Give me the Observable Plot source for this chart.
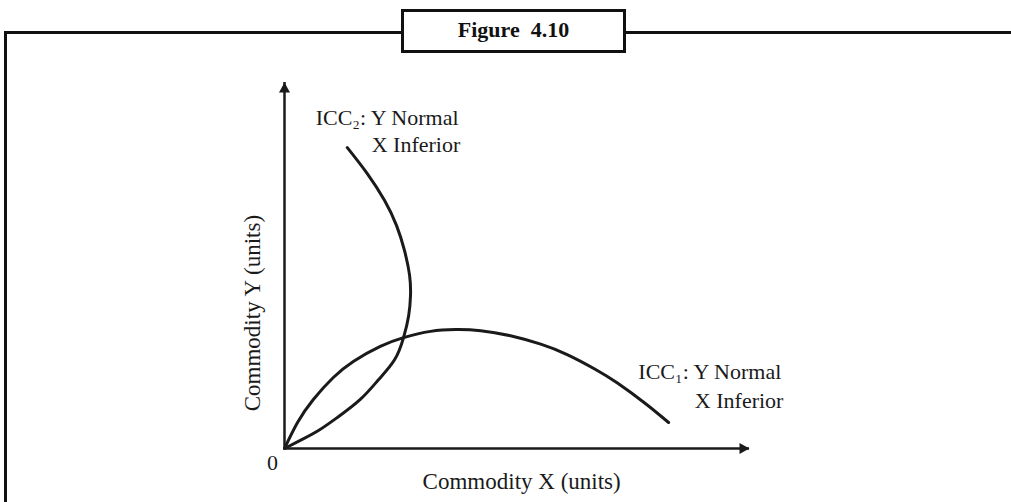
<!DOCTYPE html>
<html><head><meta charset="utf-8">
<script src="https://cdn.jsdelivr.net/npm/d3@7"></script>
<script src="https://cdn.jsdelivr.net/npm/@observablehq/plot@0.6"></script>
<style>
body{margin:0;background:#fff;}
#wrap{position:relative;width:1011px;height:502px;overflow:hidden;background:#fff;}
#frame{position:absolute;left:4px;top:31px;width:1100px;height:600px;border-left:3px solid #111;border-top:3px solid #111;}
#title{position:absolute;left:401px;top:9px;width:219px;height:36px;padding-bottom:2px;border:3px solid #111;background:#fff;font:bold 22px "Liberation Serif",serif;color:#111;display:flex;align-items:center;justify-content:center;white-space:pre;}
#chart{position:absolute;left:0;top:0;}
</style></head>
<body><div id="wrap"><div id="frame"></div><div id="title"></div><div id="chart"></div></div>
<script>
// ---- data (abstract units: both axes run 0..100) ----
const titleText = "Figure  4.10";
const xAxisLabel = "Commodity X (units)";
const yAxisLabel = "Commodity Y (units)";
const originLabel = "0";

const icc1X = [0, 2.8, 6.2, 10.5, 14.8, 20.6, 25.6, 31.4, 36.8, 42.2, 48.6, 55.1, 60.9, 66.9, 71.6, 77.6, 82.6];
const icc1Y = [0, 7.1, 13.4, 19.4, 23.8, 27.9, 30.3, 32.0, 32.5, 32.2, 30.8, 28.5, 25.6, 21.6, 17.9, 12.3, 7.1];

const icc2X = [0, 3.4, 7.3, 11.4, 16.3, 20.3, 23.7, 25.6, 26.7, 27.1, 26.9, 25.8, 24.1, 21.5, 17.8, 13.5];
const icc2Y = [0, 2.2, 4.9, 8.5, 13.4, 18.9, 24.3, 30.3, 36.3, 41.8, 47.3, 54.1, 60.9, 67.8, 75.1, 82.2];

const labelLine1 = ["ICC\u2082: Y Normal", "ICC\u2081: Y Normal"];
const labelLine2 = ["X Inferior", "X Inferior"];
const label1X = [6.7, 76.1];
const label1Y = [90.2, 20.8];
const label2X = [37.8, 107.3];
const label2Y = [82.8, 13.1];

const xLabelAt = [51, 0];
const yLabelAt = [0, 37];

// ---- build ----
document.getElementById("title").textContent = titleText;

const icc1 = icc1X.map((x, i) => ({x, y: icc1Y[i]}));
const icc2 = icc2X.map((x, i) => ({x, y: icc2Y[i]}));
const lab1 = labelLine1.map((t, i) => ({t, x: label1X[i], y: label1Y[i]}));
const lab2 = labelLine2.map((t, i) => ({t, x: label2X[i], y: label2Y[i]}));

const arrowRight = {draw(ctx){ ctx.moveTo(0,0); ctx.lineTo(-10,-5.5); ctx.lineTo(-10,5.5); ctx.closePath(); }};
const arrowUp = {draw(ctx){ ctx.moveTo(0,0); ctx.lineTo(-5.5,10); ctx.lineTo(5.5,10); ctx.closePath(); }};

const ink = "#1a1a1a";
const font = "Liberation Serif";

const chart = Plot.plot({
  width: 1011, height: 502,
  marginLeft: 284, marginRight: 262, marginTop: 82, marginBottom: 54,
  x: {domain: [0, 100], axis: null},
  y: {domain: [0, 100], axis: null},
  style: {background: "transparent", fontFamily: font, overflow: "visible"},
  marks: [
    Plot.ruleY([0], {stroke: ink, strokeWidth: 2.5}),
    Plot.ruleX([0], {stroke: ink, strokeWidth: 2.5}),
    Plot.dot([{x: 100, y: 0}], {x: "x", y: "y", symbol: arrowRight, fill: ink, stroke: "none"}),
    Plot.dot([{x: 0, y: 100}], {x: "x", y: "y", symbol: arrowUp, fill: ink, stroke: "none"}),
    Plot.line(icc1, {x: "x", y: "y", curve: "natural", stroke: ink, strokeWidth: 3}),
    Plot.line(icc2, {x: "x", y: "y", curve: "natural", stroke: ink, strokeWidth: 3}),
    Plot.text(lab1, {x: "x", y: "y", text: "t", textAnchor: "start", fontSize: 22, fill: ink}),
    Plot.text(lab2, {x: "x", y: "y", text: "t", textAnchor: "end", fontSize: 22, fill: ink}),
    Plot.text([originLabel], {x: 0, y: 0, text: d => d, dx: -12, dy: 14, fontSize: 22, fill: ink}),
    Plot.text([xAxisLabel], {x: xLabelAt[0], y: xLabelAt[1], text: d => d, dy: 33, fontSize: 23, fill: ink}),
    Plot.text([yAxisLabel], {x: yLabelAt[0], y: yLabelAt[1], text: d => d, dx: -32, rotate: -90, fontSize: 23, fill: ink})
  ]
});
document.getElementById("chart").appendChild(chart);
</script>
</body></html>
